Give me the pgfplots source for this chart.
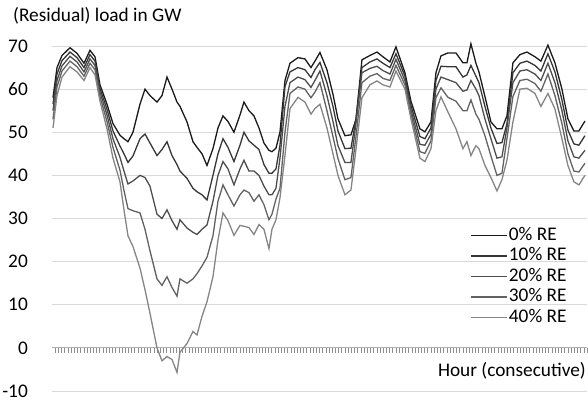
\documentclass[border=0pt]{standalone}
\usepackage{pgfplots}
\pgfplotsset{compat=1.18}
\usepackage{pgfplotstable}
\usepackage{fontspec}
\setmainfont{Carlito}
\definecolor{c0}{HTML}{1A1A1A}
\definecolor{c1}{HTML}{363636}
\definecolor{c2}{HTML}{4D4D4D}
\definecolor{c3}{HTML}{626262}
\definecolor{c4}{HTML}{858585}
\definecolor{gridc}{HTML}{D9D9D9}
\definecolor{axc}{HTML}{8C8C8C}
\pgfplotstableread{
h a b c d e
0.31 58.0 56.5 55.0 53.0 51.0
1.57 65.0 63.5 62.0 60.5 58.5
3.14 67.8 66.6 65.4 64.2 62.8
5.65 69.6 68.6 67.6 66.5 65.2
7.85 68.3 67.3 66.3 65.2 64.0
10.05 66.0 65.0 64.0 63.0 62.0
11.93 69.0 68.0 67.0 66.0 65.0
13.50 67.5 66.5 65.5 64.5 63.3
15.07 61.0 60.2 59.3 58.3 57.2
17.27 56.5 55.3 54.0 52.5 50.8
19.15 52.0 50.3 48.5 46.5 44.0
21.35 49.3 46.8 44.2 41.2 38.5
22.60 48.5 45.0 41.0 36.5 32.0
23.86 47.8 43.0 38.0 32.3 26.0
25.43 50.0 44.5 38.7 31.8 23.5
27.63 56.5 48.5 40.0 31.3 18.5
29.20 60.0 49.6 39.5 27.5 13.5
30.77 58.5 47.5 37.5 22.5 8.0
32.97 57.0 44.6 31.0 16.0 0.0
34.54 58.5 46.0 30.0 14.5 -3.0
36.11 62.8 47.8 32.0 16.5 -2.0
37.68 60.0 44.6 29.5 14.0 -2.7
39.25 57.0 42.5 27.5 12.0 -5.7
40.19 56.0 41.0 29.7 16.0 -1.0
42.39 52.4 39.3 27.8 15.0 1.0
44.27 47.8 37.0 26.8 16.0 3.8
45.53 46.5 36.2 26.3 17.2 3.0
47.10 45.0 35.5 27.5 19.0 7.3
48.67 42.3 34.3 28.5 21.0 10.7
50.55 46.2 40.0 34.0 26.0 16.5
52.12 51.0 45.0 40.0 34.0 25.0
53.69 53.8 48.5 43.2 37.8 31.3
55.26 52.5 46.5 41.5 35.5 29.5
57.14 50.0 43.2 37.8 32.9 26.1
59.03 54.0 47.0 41.5 35.5 28.4
60.28 57.0 50.0 43.5 36.6 28.2
61.85 55.0 48.0 41.0 36.0 27.9
63.42 53.8 47.0 41.0 34.0 26.3
64.99 51.0 46.0 40.0 35.5 28.6
66.56 47.5 42.5 37.5 33.2 27.5
68.13 45.8 40.5 35.5 29.7 23.0
69.07 45.5 40.5 35.5 31.0 27.5
70.33 46.3 41.5 37.0 34.5 29.7
71.59 50.0 47.0 44.0 37.0 34.8
73.16 62.0 60.6 56.0 50.0 44.6
74.73 66.0 64.0 61.5 59.0 55.5
77.24 67.3 65.0 62.8 60.5 58.1
79.43 67.0 64.5 62.2 60.0 57.0
81.32 65.0 62.7 60.4 58.0 54.2
82.57 66.5 64.5 62.0 59.3 55.5
84.14 68.5 66.2 64.2 61.5 56.5
86.34 64.5 61.5 58.5 55.0 51.0
88.23 58.8 56.0 52.5 49.0 45.0
89.80 53.1 50.3 46.9 43.9 40.0
91.99 49.2 46.2 43.0 39.0 35.5
93.88 49.4 46.3 43.0 39.5 36.6
95.45 53.0 53.0 52.0 49.0 46.0
97.33 66.8 65.0 63.8 61.5 58.0
99.84 67.8 66.3 64.8 63.0 61.0
102.04 68.6 67.0 65.3 63.6 61.9
103.92 67.5 66.0 64.3 62.5 61.0
106.12 66.3 65.0 63.5 62.0 60.5
108.01 69.8 68.2 66.9 65.5 64.2
110.83 63.8 63.0 62.0 61.0 60.0
112.72 57.2 56.2 55.2 54.2 53.1
115.54 50.8 49.0 47.2 45.5 44.0
117.11 50.1 48.5 47.0 45.1 43.2
119.00 52.4 51.0 49.5 48.0 46.2
120.57 63.8 62.0 60.0 58.0 55.0
122.14 67.7 65.3 62.8 60.3 58.2
124.33 68.4 65.2 62.2 58.1 54.7
126.85 68.4 65.2 61.5 57.2 50.8
129.04 66.1 62.8 59.5 55.0 46.2
130.30 66.1 63.3 59.8 55.0 47.8
131.55 70.5 65.5 62.0 57.5 44.6
133.12 66.0 63.0 60.0 54.2 46.9
134.07 64.0 61.5 58.5 53.0 46.2
135.95 58.3 56.0 53.1 49.2 42.3
137.83 52.4 51.0 48.5 44.5 39.5
139.72 50.8 47.4 44.0 40.0 36.4
141.29 50.8 47.6 44.3 40.5 39.0
142.86 53.8 52.0 51.0 48.5 43.5
144.74 66.1 63.8 61.5 58.3 52.4
146.94 68.0 66.0 64.2 62.0 60.0
149.14 68.6 66.5 64.5 62.3 60.2
151.65 67.5 65.5 63.5 61.3 59.0
153.53 66.5 64.2 62.0 59.5 56.0
155.73 70.2 68.2 66.0 63.5 59.0
157.93 66.1 64.0 61.5 58.5 55.4
160.13 60.0 57.5 55.0 52.0 48.5
162.01 53.1 50.5 48.0 45.0 42.3
163.89 50.3 47.3 44.3 41.0 38.5
165.46 50.3 47.0 44.0 40.8 37.8
167.35 52.6 49.2 45.8 42.8 40.0
}\data
\begin{document}
\begin{tikzpicture}[font=\fontsize{19.3bp}{23bp}\selectfont]
\begin{axis}[
  scale only axis,
  width=535bp, height=345bp,
  xmin=0, xmax=168,
  ymin=-10, ymax=70,
  clip=false,
  axis x line*=middle,
  axis y line*=left,
  y axis line style={draw=none},
  x axis line style={draw=axc!70, line width=0.8bp},
  ytick={-10,0,10,20,30,40,50,60,70},
  yticklabels={-10,0,10,20,30,40,50,60,70},
  ytick style={draw=none},
  yticklabel style={anchor=east, inner sep=0pt, xshift=-19bp, font=\fontsize{19.3bp}{23bp}\selectfont},
  ymajorgrids,
  grid style={draw=gridc, line width=1bp},
  xtick={0,1,...,168},
  xticklabels={},
  tick align=outside,
  major tick length=5bp,
  x tick style={draw=axc, line width=0.6bp},
  legend cell align=left,
  legend style={draw=none, fill=none, at={(0.781,0.481)}, anchor=north west,
    inner sep=0pt, row sep=0pt, column sep=0pt,
    nodes={inner sep=1.5bp, text height=13.5bp, text depth=4bp},
    font=\fontsize{19.3bp}{23bp}\selectfont},
  legend image code/.code={\draw[#1, line width=1.4bp] (0bp,0bp) -- (36bp,0bp);},
]
\addplot[c0, line width=1.3bp] table[x=h,y=a]{\data};
\addplot[c1, line width=1.3bp] table[x=h,y=b]{\data};
\addplot[c2, line width=1.3bp] table[x=h,y=c]{\data};
\addplot[c3, line width=1.3bp] table[x=h,y=d]{\data};
\addplot[c4, line width=1.3bp] table[x=h,y=e]{\data};
\legend{0\% RE,10\% RE,20\% RE,30\% RE,40\% RE}
\coordinate (bl) at (rel axis cs:0,0);
\coordinate (tr) at (rel axis cs:1,1);
\node[anchor=base west, inner sep=0pt, xshift=-39bp, yshift=25bp] at (rel axis cs:0,1) {(Residual) load in GW};
\node[anchor=base east, inner sep=0pt, xshift=-1bp] at (axis cs:168,-6.6) {Hour (consecutive)};
\end{axis}
\pgfresetboundingbox
\useasboundingbox ([xshift=-52bp,yshift=-10bp]bl) rectangle ([xshift=1bp,yshift=46bp]tr);
\end{tikzpicture}
\end{document}
